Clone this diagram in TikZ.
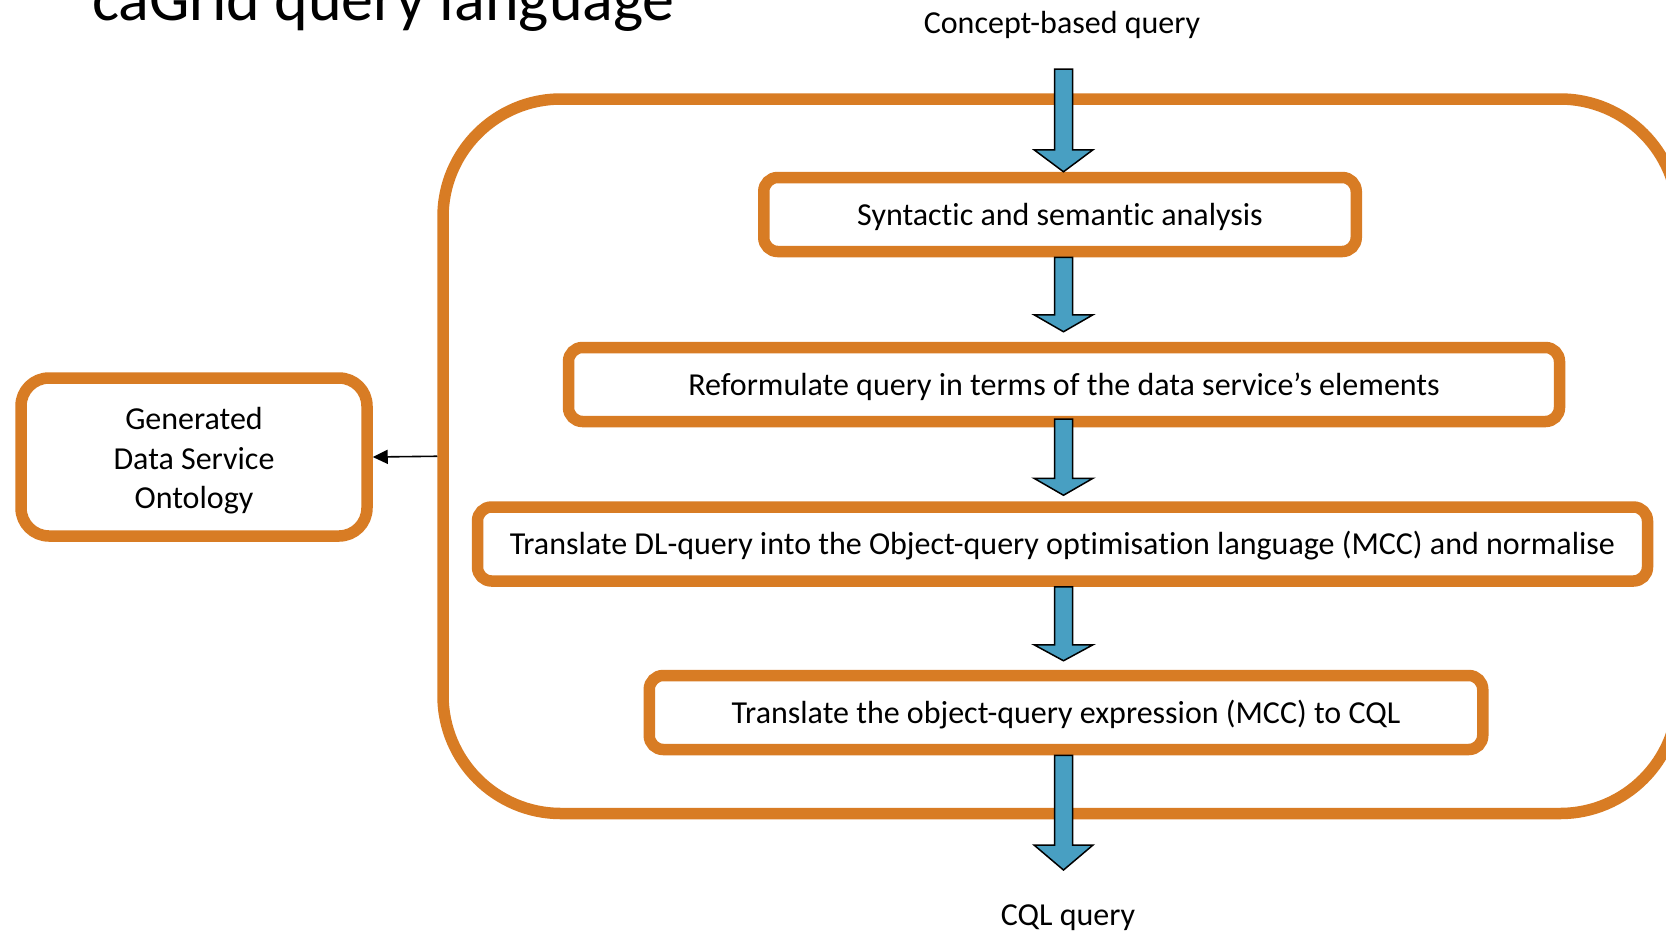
\documentclass[tikz,border=0pt]{standalone}
\usepackage{fontspec}
\setmainfont{Carlito}[Ligatures=NoCommon]
\usetikzlibrary{calc,arrows.meta}
\definecolor{borange}{RGB}{216,124,36}
\definecolor{bblue}{RGB}{72,159,194}
\newcommand\bodyfont{\fontsize{32}{39.5}\selectfont}
\newcommand\titlefont{\fontsize{64}{72}\selectfont}
\tikzset{
  stepbox/.style={draw=borange, line width=11.5pt, rounded corners=14pt, fill=white,
    inner sep=0pt, font=\bodyfont, minimum height=74pt, text height=25pt, text depth=4pt},
  ontobox/.style={draw=borange, line width=11.5pt, rounded corners=28pt, fill=white,
    inner sep=0pt},
  ontotext/.style={font=\bodyfont, align=center, inner sep=0pt},
  container/.style={draw=borange, line width=11.5pt, rounded corners=118pt, inner sep=0pt},
  label/.style={font=\bodyfont, inner sep=0pt, anchor=base},
  blockarrow/.style={fill=bblue, draw=black, line width=1.5pt, line join=miter},
  thinarrow/.style={draw=black, line width=1.6pt, -{Triangle[length=15pt,width=14pt]}},
}
% block arrow: start, end, gap above end (px), head length (px)
\newcommand\blockarr[4]{%
  \path[blockarrow] let \p1=(#1), \p2=(#2), \p3=(axis) in
    (\x3-9pt,\y1) -- (\x3+9pt,\y1) -- (\x3+9pt,\y2+#3pt+#4pt) -- (\x3+29.5pt,\y2+#3pt+#4pt)
    -- (\x3,\y2+#3pt) -- (\x3-29.5pt,\y2+#3pt+#4pt) -- (\x3-9pt,\y2+#3pt+#4pt) -- cycle;}
\begin{document}
\begin{tikzpicture}[x=1pt,y=-1pt]
\useasboundingbox (0,0) rectangle (1666,930);
\fill[white] (0,0) rectangle (1666,930);

% title (cut at the top in the reference)
\node[font=\titlefont, inner sep=0pt, anchor=base west] (title) at (92,20) {caGrid query language};

% outer container
\node[container, minimum width=1235pt, minimum height=714.5pt] (cont) at (1060.5,456.25) {};

% steps
\node[stepbox, minimum width=592.5pt] (s1) at (1060,214.5) {Syntactic and semantic analysis};
\node[stepbox, minimum width=991pt] (s2) at (1064,384.5) {Reformulate query in terms of the data service’s elements};
\node[stepbox, minimum width=1170pt] (s3) at (1062.5,544) {Translate DL-query into the Object-query optimisation language (MCC) and normalise};
\node[stepbox, minimum width=833.5pt] (s4) at (1066,712.5) {Translate the object-query expression (MCC) to CQL};

% ontology box
\node[ontobox, minimum width=346pt, minimum height=158pt] (onto) at (194,457) {};
\node[ontotext] (ontolabel) at (194,461) {Generated\\Data Service\\Ontology};

% labels
\node[label] (qin) at (1062,33) {Concept-based query};
\node[label] (qout) at (1068,925) {CQL query};

% arrow geometry helpers
\coordinate (axis) at (1063.5,0);
\coordinate (inTop) at (1063,69);
\coordinate (outTip) at (1063,870);
\coordinate (s2top) at (1063,419);

% block arrows
\blockarr{inTop}{s1.north}{0}{22}
\blockarr{s1.south}{s2.north}{10}{17}
\blockarr{s2top}{s3.north}{6}{17}
\blockarr{s3.south}{s4.north}{9}{16}
\blockarr{s4.south}{outTip}{0}{25}

% thin arrow to ontology
\draw[thinarrow] (cont.west) -- (onto.east);
\end{tikzpicture}
\end{document}
